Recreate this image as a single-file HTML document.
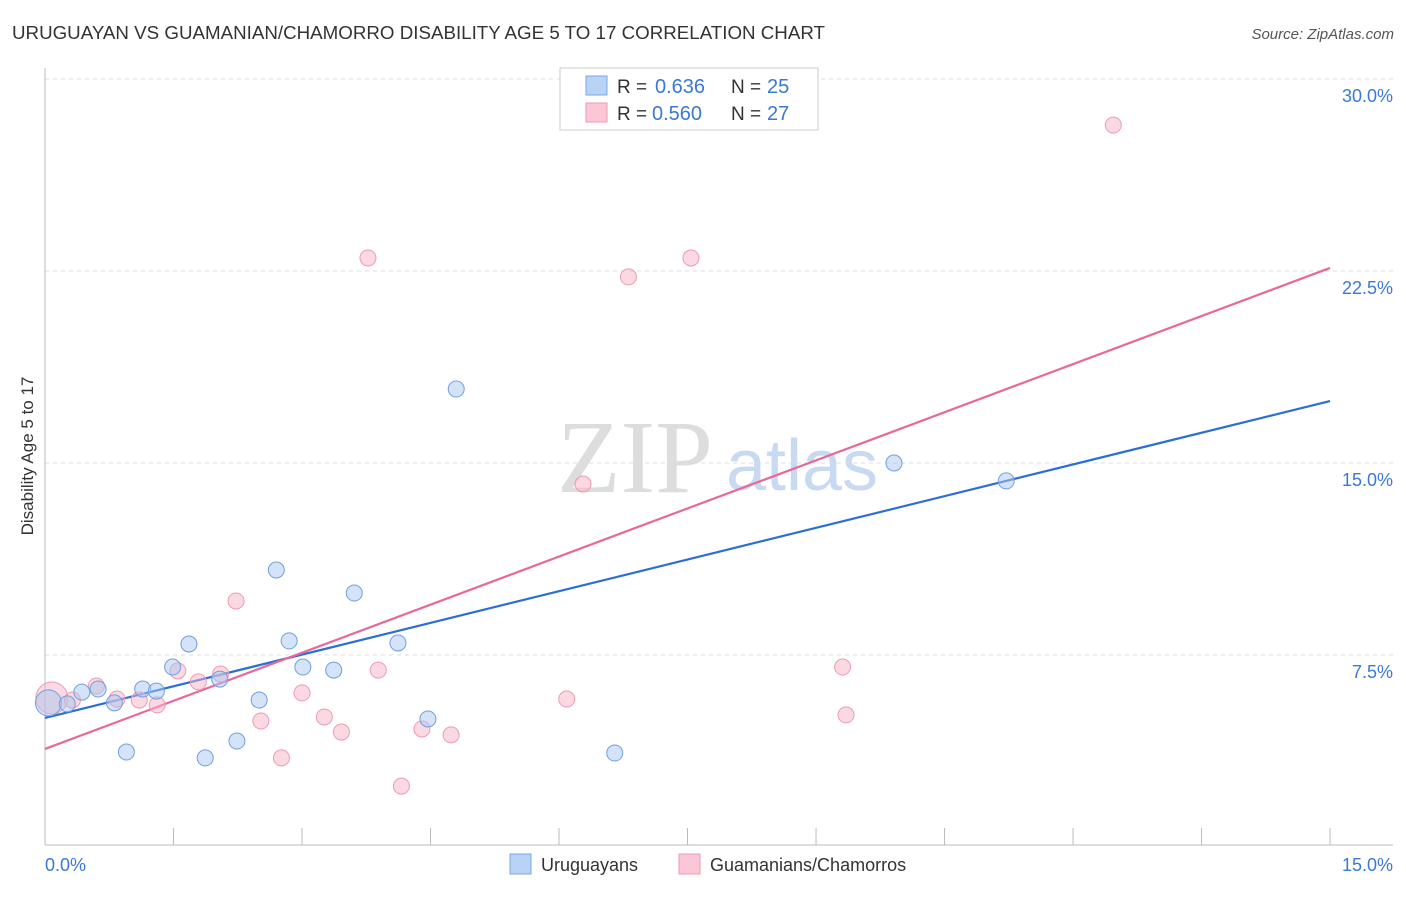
<!DOCTYPE html>
<html><head><meta charset="utf-8"><style>
body{margin:0;background:#fff;font-family:"Liberation Sans",sans-serif;}
svg text{font-family:"Liberation Sans",sans-serif;}
</style></head><body>
<svg id="chart" width="1406" height="892">
<text x="12" y="39" font-size="18" fill="#333" textLength="813" lengthAdjust="spacingAndGlyphs">URUGUAYAN VS GUAMANIAN/CHAMORRO DISABILITY AGE 5 TO 17 CORRELATION CHART</text>
<text x="1394" y="39" font-size="15" fill="#555" font-style="italic" text-anchor="end">Source: ZipAtlas.com</text>
<text x="33" y="456" font-size="17" fill="#333" text-anchor="middle" transform="rotate(-90 33 456)">Disability Age 5 to 17</text>
<g><text x="635" y="492" font-size="104" fill="#ddd" font-family="Liberation Serif" text-anchor="middle" style="font-family:'Liberation Serif',serif">ZIP</text><text x="802" y="490" font-size="72" fill="#c8daf2" text-anchor="middle">atlas</text></g>
<g id="grid"></g><g id="axes"></g><g id="lines"></g><g id="pts"></g>
<g>
<rect x="560" y="68" width="258" height="62" fill="#fff" stroke="#ccc"/>
<rect x="586" y="76" width="21" height="19" fill="#b8d3f5" stroke="#7aa8e6"/>
<rect x="586" y="103" width="21" height="19" fill="#fbc7d6" stroke="#ee9ab3"/>
<text x="617" y="93" font-size="19" fill="#333">R =</text>
<text x="655" y="93" font-size="20" fill="#3a78d8">0.636</text>
<text x="731" y="93" font-size="19" fill="#333">N =</text>
<text x="767" y="93" font-size="20" fill="#3a78d8">25</text>
<text x="617" y="120" font-size="19" fill="#333">R =</text>
<text x="652" y="120" font-size="20" fill="#3a78d8">0.560</text>
<text x="731" y="120" font-size="19" fill="#333">N =</text>
<text x="767" y="120" font-size="20" fill="#3a78d8">27</text>
</g>
<g>
<rect x="510" y="854" width="21" height="20" fill="#b8d3f5" stroke="#7aa8e6"/>
<text x="541" y="871" font-size="18" fill="#333">Uruguayans</text>
<rect x="679" y="854" width="21" height="20" fill="#fbc7d6" stroke="#ee9ab3"/>
<text x="710" y="871" font-size="18" fill="#333">Guamanians/Chamorros</text>
</g>
</svg>
<script>
const blueX=[0.04,0.26,0.43,0.62,0.81,0.95,1.14,1.30,1.49,1.68,1.87,2.04,2.24,2.50,2.70,2.85,3.01,3.37,3.61,4.12,4.47,4.80,6.65,9.91,11.22];
const blueY=[5.63,5.59,6.05,6.17,5.63,3.71,6.17,6.09,7.03,7.93,3.48,6.56,4.14,5.74,10.82,8.05,7.03,6.91,9.92,7.97,5.00,17.89,3.67,15.00,14.30];
const pinkX=[0.08,0.32,0.60,0.84,1.10,1.31,1.55,1.79,2.05,2.23,2.52,2.76,3.00,3.26,3.46,3.77,3.89,4.16,4.40,4.74,6.09,6.28,6.81,7.54,9.31,9.35,12.47];
const pinkY=[5.82,5.74,6.29,5.78,5.74,5.55,6.88,6.45,6.76,9.61,4.92,3.48,6.02,5.08,4.49,23.01,6.91,2.38,4.61,4.38,5.78,14.18,22.27,23.01,7.03,5.16,28.20];
const blueTrend=[5.04,17.42];
const pinkTrend=[3.83,22.62];
const yTicks=[7.5,15,22.5,30];
const xTickLabels=["0.0%","15.0%"];
const NS="http://www.w3.org/2000/svg";
const sx=v=>45+v*85.67, sy=v=>847-v*25.6;
function mk(p,t,a){const e=document.createElementNS(NS,t);for(const k in a)e.setAttribute(k,a[k]);document.getElementById(p).appendChild(e);return e;}
yTicks.forEach(t=>{
 const l=mk('grid','line',{x1:45,x2:1393,y1:sy(t),y2:sy(t),stroke:'#ddd','stroke-dasharray':'4,4'});
 
 
 const tx=mk('grid','text',{x:1393,y:sy(t)+23,'font-size':18,fill:'#3a78d8','text-anchor':'end'});
 tx.textContent=t.toFixed(1)+'%';
 
 
});
mk('axes','line',{x1:45,x2:45,y1:68,y2:845,stroke:'#bbb'});
mk('axes','line',{x1:45,x2:1393,y1:845,y2:845,stroke:'#bbb'});
for(let i=0;i<=10;i++){const x=sx(i*1.5);mk('axes','line',{x1:x,x2:x,y1:828,y2:845,stroke:'#bbb'});}
[[0,'start',45],[15,'end',1393]].forEach((d,i)=>{
 const t=mk('axes','text',{x:d[2],y:871,'font-size':18,fill:'#3a78d8','text-anchor':d[1]});
 t.textContent=xTickLabels[i];
 
 
});
const bl=mk('lines','line',{x1:sx(0),y1:sy(blueTrend[0]),x2:sx(15),y2:sy(blueTrend[1]),stroke:'#2a6fd6','stroke-width':2.2});


const pl=mk('lines','line',{x1:sx(0),y1:sy(pinkTrend[0]),x2:sx(15),y2:sy(pinkTrend[1]),stroke:'#e8689a','stroke-width':2.2});


pinkX.forEach((x,i)=>{
 const c=mk('pts','circle',{cx:sx(x),cy:sy(pinkY[i]),r:i==0?16:8,fill:'rgba(248,180,200,0.5)',stroke:'#ee9ab3','stroke-width':1});
 
 
});
blueX.forEach((x,i)=>{
 const c=mk('pts','circle',{cx:sx(x),cy:sy(blueY[i]),r:i==0?13:8,fill:'rgba(170,200,240,0.5)',stroke:'#6f9fe0','stroke-width':1});
 
 
});
</script>
</body></html>
